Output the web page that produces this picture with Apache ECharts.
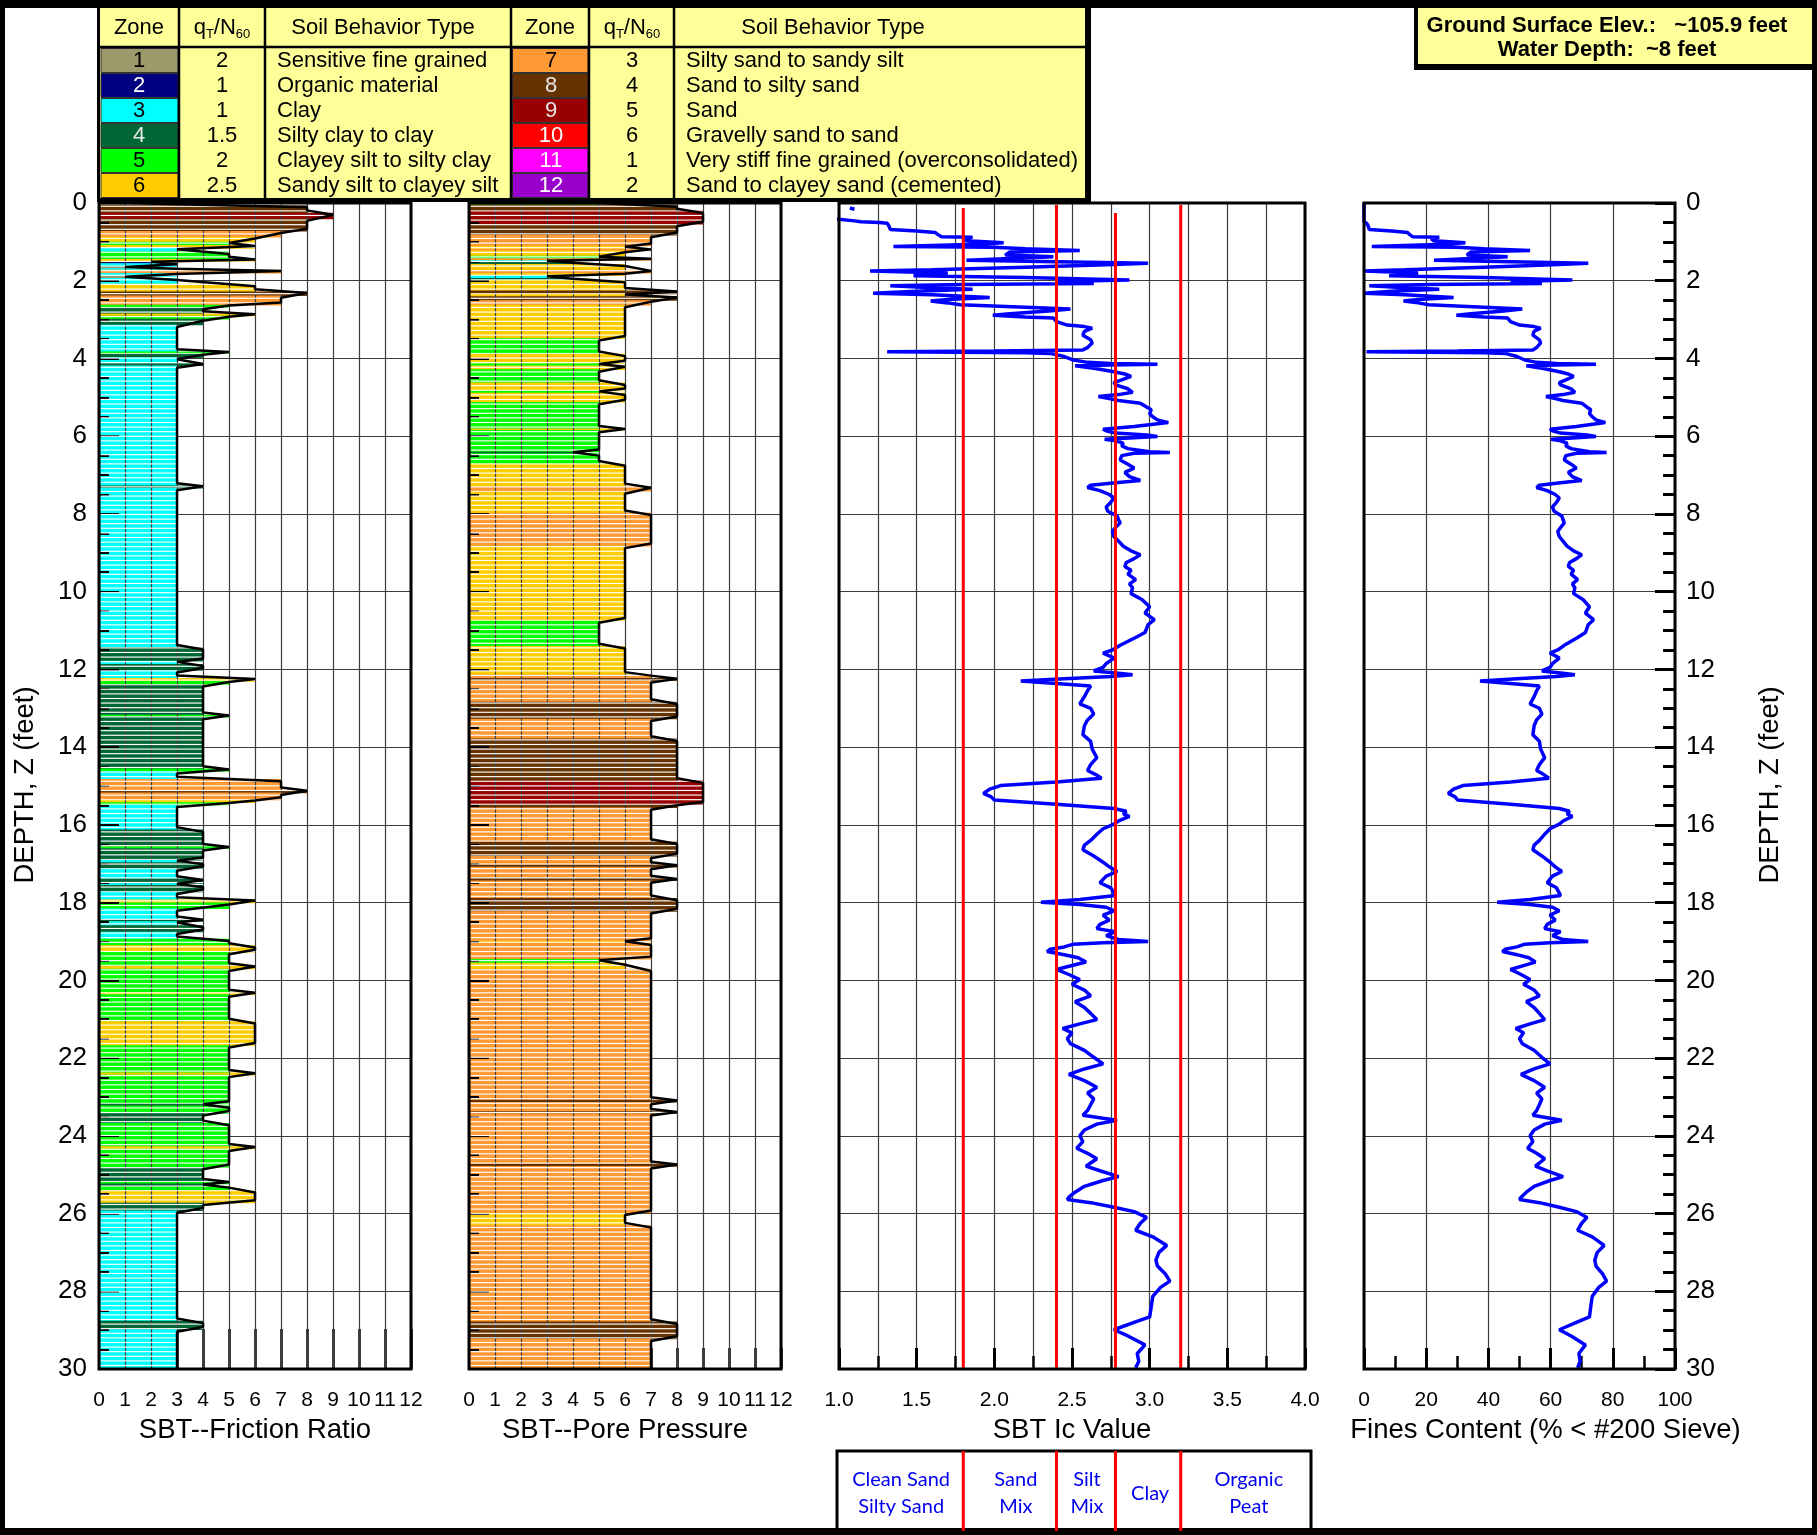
<!DOCTYPE html>
<html><head><meta charset="utf-8">
<script src="https://cdn.jsdelivr.net/npm/echarts@6/dist/echarts.min.js"></script>
<style>html,body{margin:0;padding:0;background:#fff}#c{width:1817px;height:1535px}</style>
</head><body><div id="c"></div>
<script>
// ---------------- DATA ----------------
const zoneColors = ['#9c9a6a','#000080','#00ffff','#006633','#00ff00','#ffcc00','#ff9933','#663300','#990000','#ff0000','#ff00ff','#9900cc'];
const zoneTextColors = ['#000','#fff','#000','#e6e6e6','#000','#000','#000','#e6e6e6','#e6e6e6','#fff','#fff','#fff'];
const zoneQN = ['2','1','1','1.5','2','2.5','3','4','5','6','1','2'];
const zoneNames = ['Sensitive fine grained','Organic material','Clay','Silty clay to clay','Clayey silt to silty clay','Sandy silt to clayey silt',
  'Silty sand to sandy silt','Sand to silty sand','Sand','Gravelly sand to sand','Very stiff fine grained (overconsolidated)','Sand to clayey sand (cemented)'];

const depthMax = 30;
// SBT zone from friction ratio: layer top depth (ft) and zone
const frTop = [0.00,0.05,0.25,0.40,0.72,0.87,1.00,1.08,1.16,1.25,
  1.44,1.49,1.55,1.63,1.68,1.72,1.80,1.88,1.93,2.08,
  2.28,2.38,2.62,2.68,2.84,2.90,2.98,3.13,3.82,3.87,
  3.97,4.12,4.18,7.27,7.33,11.43,11.78,11.86,12.02,12.22,
  12.30,12.38,13.17,13.22,14.55,14.62,14.82,15.10,15.17,15.35,
  15.42,15.48,16.12,16.55,16.60,16.90,16.96,17.12,17.38,17.50,
  17.55,17.72,17.92,18.00,18.15,18.42,18.48,18.58,18.75,18.93,
  19.10,19.27,19.62,19.70,20.30,20.36,21.05,21.67,22.37,22.43,
  23.17,23.22,23.42,23.67,24.27,24.33,24.80,25.17,25.23,25.30,
  25.40,25.72,25.92,28.76,28.98];
const frZone = [1,8,9,8,7,6,5,6,3,5, 6,2,3,1,3,7,3,1,3,6, 8,7,5,4,6,5,4,3,5,4,
  3,4,3,4,3,4,3,4,3,6, 5,4,5,4,5,3,7,8,7,6, 5,3,4,5,4,3,4,3,4,3,
  4,3,6,5,3,4,3,4,3,5, 6,5,6,5,6,5,6,5,6,5, 4,5,4,5,6,5,4,5,4,5, 6,4,3,4,3];
// SBT zone from pore pressure
const ppTop = [0.00,0.04,0.20,0.54,0.82,1.10,1.18,1.22,1.36,1.42,
  1.47,1.52,1.57,1.72,1.80,1.86,1.93,1.98,2.25,2.33,
  2.40,2.50,2.62,3.48,3.88,4.12,4.18,4.28,4.62,4.83,
  4.88,5.12,5.80,5.84,6.40,6.44,6.70,7.28,7.42,7.97,
  8.82,10.74,11.40,12.13,12.22,12.28,12.83,13.27,13.78,14.86,
  15.47,15.55,16.43,16.80,17.02,17.08,17.37,17.43,17.88,18.22,
  18.98,19.03,19.45,19.55,19.70,23.07,23.13,23.37,23.42,24.72,
  24.78,25.98,26.30,28.78,29.22];
const ppZone = [5,8,9,8,7,6,7,6,5,7, 3,4,6,7,6,3,4,6,8,6, 8,7,6,5,6,5,6,5,6,5,
  6,5,6,5,4,5,6,7,6,7, 6,5,6,7,8,7,8,7,8,9, 8,7,8,7,8,7,8,7,8,7,
  6,7,5,6,7,8,7,8,7,8, 7,6,7,8,7];

// Ic and fines content profiles
const depth = [0.00,0.10,0.13,0.16,0.19,0.30,0.42,0.46,0.48,0.50,
  0.52,0.58,0.68,0.72,0.76,0.82,0.87,0.88,0.92,0.97,
  1.02,1.06,1.12,1.14,1.18,1.22,1.26,1.34,1.38,1.43,
  1.47,1.53,1.55,1.59,1.65,1.72,1.75,1.80,1.87,1.92,
  1.98,2.02,2.07,2.10,2.13,2.18,2.22,2.27,2.32,2.36,
  2.43,2.48,2.52,2.57,2.62,2.68,2.73,2.78,2.85,2.89,
  2.93,2.96,3.05,3.14,3.18,3.22,3.30,3.40,3.44,3.52,
  3.60,3.65,3.72,3.78,3.81,3.83,3.85,3.87,3.95,4.04,
  4.10,4.13,4.15,4.17,4.19,4.26,4.34,4.40,4.46,4.55,
  4.62,4.68,4.78,4.87,4.93,4.98,5.03,5.08,5.15,5.25,
  5.32,5.42,5.50,5.58,5.65,5.70,5.75,5.82,5.86,5.92,
  5.97,6.01,6.04,6.08,6.12,6.18,6.25,6.32,6.40,6.42,
  6.44,6.50,6.61,6.72,6.82,6.93,7.04,7.14,7.20,7.26,
  7.32,7.40,7.50,7.59,7.70,7.82,7.93,8.05,8.15,8.23,
  8.35,8.45,8.58,8.70,8.83,8.95,9.05,9.15,9.25,9.35,
  9.45,9.55,9.69,9.80,9.90,10.05,10.20,10.39,10.55,10.72,
  10.85,11.05,11.20,11.38,11.50,11.58,11.65,11.71,11.85,11.95,
  12.04,12.10,12.14,12.18,12.24,12.30,12.36,12.43,12.55,12.70,
  12.89,13.00,13.15,13.30,13.45,13.68,13.85,14.05,14.27,14.45,
  14.60,14.70,14.80,14.90,14.99,15.08,15.19,15.28,15.36,15.47,
  15.58,15.65,15.72,15.78,15.90,15.98,16.10,16.24,16.40,16.52,
  16.64,16.80,16.96,17.08,17.20,17.32,17.49,17.62,17.82,17.92,
  17.99,18.05,18.12,18.21,18.32,18.45,18.56,18.67,18.75,18.85,
  18.95,19.00,19.03,19.07,19.14,19.20,19.26,19.34,19.42,19.53,
  19.62,19.72,19.85,19.98,20.10,20.25,20.40,20.55,20.70,20.85,
  21.01,21.12,21.24,21.35,21.50,21.63,21.80,21.98,22.15,22.28,
  22.42,22.58,22.75,22.90,23.05,23.20,23.35,23.47,23.55,23.60,
  23.70,23.85,24.00,24.15,24.32,24.45,24.59,24.70,24.78,24.90,
  25.05,25.15,25.30,25.45,25.58,25.64,25.72,25.84,25.95,26.10,
  26.25,26.43,26.60,26.82,27.00,27.20,27.35,27.55,27.74,27.90,
  28.13,28.40,28.66,28.80,28.99,29.15,29.38,29.60,29.80,29.97];
const ic = [0.80,null,1.07,1.10,null,0.85,1.00,1.10,1.14,1.26,
  1.31,1.32,1.33,1.50,1.62,1.64,1.66,1.86,1.80,1.82,
  2.06,1.90,1.35,2.00,2.20,2.55,2.10,2.07,2.38,2.10,
  1.82,2.70,2.99,2.72,2.20,1.60,1.20,1.70,1.48,2.20,
  2.87,2.40,2.64,1.80,1.33,1.60,1.86,1.50,1.22,1.60,
  1.97,1.70,1.59,1.70,1.78,2.20,2.49,2.35,2.10,1.99,
  2.20,2.38,2.40,2.47,2.58,2.63,2.58,2.57,2.56,2.62,
  2.63,2.64,2.60,2.57,2.00,1.31,2.20,2.36,2.45,2.51,
  2.60,2.75,3.05,2.75,2.52,2.65,2.77,2.84,2.88,2.82,
  2.77,2.78,2.86,2.89,2.80,2.67,2.74,2.80,2.94,2.98,
  3.01,3.00,3.02,3.05,3.12,3.13,2.90,2.70,2.72,2.78,
  2.98,3.05,2.90,2.71,2.78,2.83,2.82,2.86,3.00,3.13,
  2.90,2.82,2.81,2.86,2.90,2.84,2.87,2.94,2.78,2.62,
  2.60,2.68,2.74,2.77,2.75,2.72,2.73,2.79,2.80,2.81,
  2.78,2.76,2.77,2.80,2.83,2.88,2.94,2.90,2.85,2.84,
  2.88,2.86,2.91,2.87,2.89,2.88,2.95,3.00,2.97,3.03,
  2.99,2.97,2.90,2.81,2.76,2.70,2.74,2.77,2.72,2.70,
  2.64,2.80,2.89,2.75,2.45,2.17,2.40,2.62,2.60,2.58,
  2.55,2.62,2.64,2.60,2.58,2.57,2.62,2.63,2.66,2.62,
  2.60,2.65,2.69,2.40,2.04,1.97,1.93,1.98,2.00,2.40,
  2.77,2.85,2.83,2.87,2.80,2.77,2.70,2.66,2.62,2.58,
  2.57,2.64,2.70,2.74,2.79,2.72,2.68,2.75,2.78,2.55,
  2.30,2.55,2.72,2.77,2.70,2.74,2.68,2.66,2.78,2.72,
  2.80,2.99,2.70,2.51,2.45,2.36,2.34,2.45,2.54,2.59,
  2.50,2.40,2.48,2.55,2.50,2.58,2.62,2.52,2.58,2.62,
  2.66,2.55,2.44,2.50,2.47,2.49,2.58,2.64,2.70,2.58,
  2.48,2.58,2.66,2.60,2.64,2.62,2.60,2.57,2.70,2.79,
  2.66,2.58,2.55,2.57,2.53,2.60,2.66,2.62,2.59,2.68,
  2.80,2.70,2.58,2.52,2.48,2.47,2.62,2.77,2.90,2.98,
  2.94,2.91,3.02,3.11,3.06,3.04,3.05,3.10,3.13,3.07,
  3.02,3.01,3.00,2.90,2.77,2.86,2.97,2.92,2.93,2.91];
const fc = [0,0,0,0,0,0,0,0,0,0,
  0.8,1.3,1.7,8.9,14.0,14.8,15.7,24.2,21.6,22.5,
  32.6,25.9,2.5,30.1,38.6,53.4,34.3,33.1,46.2,34.3,
  22.5,59.8,72.1,60.6,38.6,13.1,0,17.4,8.1,38.6,
  67.0,47.1,57.2,21.6,1.7,13.1,24.2,8.9,0,13.1,
  28.8,17.4,12.7,17.4,20.8,38.6,50.9,44.9,34.3,29.7,
  38.6,46.2,47.1,50.0,54.7,56.8,54.7,54.3,53.8,56.4,
  56.8,57.2,55.5,54.3,30.1,0.8,38.6,45.4,49.2,51.7,
  55.5,61.9,74.6,61.9,52.2,57.7,62.8,65.7,67.4,64.9,
  62.8,63.2,66.6,67.8,64.0,58.5,61.5,64.0,70.0,71.7,
  72.9,72.5,73.4,74.6,77.6,78.0,68.3,59.8,60.6,63.2,
  71.7,74.6,68.3,60.2,63.2,65.3,64.9,66.6,72.5,78.0,
  68.3,64.9,64.4,66.6,68.3,65.7,67.0,70.0,63.2,56.4,
  55.5,58.9,61.5,62.8,61.9,60.6,61.1,63.6,64.0,64.4,
  63.2,62.3,62.8,64.0,65.3,67.4,70.0,68.3,66.1,65.7,
  67.4,66.6,68.7,67.0,67.8,67.4,70.4,72.5,71.2,73.8,
  72.1,71.2,68.3,64.4,62.3,59.8,61.5,62.8,60.6,59.8,
  57.2,64.0,67.8,61.9,49.2,37.3,47.1,56.4,55.5,54.7,
  53.4,56.4,57.2,55.5,54.7,54.3,56.4,56.8,58.1,56.4,
  55.5,57.7,59.4,47.1,31.8,28.8,27.1,29.3,30.1,47.1,
  62.8,66.1,65.3,67.0,64.0,62.8,59.8,58.1,56.4,54.7,
  54.3,57.2,59.8,61.5,63.6,60.6,58.9,61.9,63.2,53.4,
  42.8,53.4,60.6,62.8,59.8,61.5,58.9,58.1,63.2,60.6,
  64.0,72.1,59.8,51.7,49.2,45.4,44.5,49.2,53.0,55.1,
  51.3,47.1,50.5,53.4,51.3,54.7,56.4,52.2,54.7,56.4,
  58.1,53.4,48.8,51.3,50.0,50.9,54.7,57.2,59.8,54.7,
  50.5,54.7,58.1,55.5,57.2,56.4,55.5,54.3,59.8,63.6,
  58.1,54.7,53.4,54.3,52.6,55.5,58.1,56.4,55.1,58.9,
  64.0,59.8,54.7,52.2,50.5,50.0,56.4,62.8,68.3,71.7,
  70.0,68.7,73.4,77.2,75.0,74.2,74.6,76.7,78.0,75.5,
  73.4,72.9,72.5,68.3,62.8,66.6,71.2,69.1,69.5,68.7];

const icBounds = [1.8, 2.4, 2.78, 3.2];
const icBoundTop = [0.13, 0.05, 0.26, 0.05];
const icClasses = [['Clean Sand','Silty Sand'],['Sand','Mix'],['Silt','Mix'],['Clay'],['Organic','Peat']];

const xTitles = ['SBT--Friction Ratio','SBT--Pore Pressure','SBT Ic Value','Fines Content (% < #200 Sieve)'];
const depthTitle = 'DEPTH, Z (feet)';
const infoLines = ['Ground Surface Elev.:   ~105.9 feet','Water Depth:  ~8 feet'];

// ---------------- CHART ----------------
const F = "'Liberation Sans', Arial, sans-serif";
const chart = echarts.init(document.getElementById('c'), null, {renderer:'canvas', width:1817, height:1535});

const GR = [
  {left:99, top:203, width:312, height:1166},
  {left:469, top:203, width:312, height:1166},
  {left:839, top:203, width:466, height:1166},
  {left:1364, top:203, width:311, height:1166}
];

// white stripe pattern
const pc = document.createElement('canvas'); pc.width = 8; pc.height = 23;
(function(){ const g = pc.getContext('2d'); g.fillStyle = '#ffffff'; for (let k = 0; k < 5; k++) g.fillRect(0, k*4.6 + 3.3, 8, 1.15); })();

function layers(tops, zones){ return tops.map((t,i) => [zones[i], t, i < tops.length-1 ? tops[i+1] : depthMax]); }
function outline(L){
  const pts = [];
  L.forEach(([z,t,b], i) => {
    const e = Math.min(0.06, (b-t)/3);
    pts.push([z, i === 0 ? t : t+e]);
    pts.push([z, i === L.length-1 ? b : b-e]);
  });
  return pts;
}
function fillS(L, xi, yi, stripes){
  return {type:'custom', xAxisIndex:xi, yAxisIndex:yi, z: stripes ? 6 : 2, silent:true,
    dimensions:['z','t','b'], encode:{x:'z', y:['t','b']}, data:L,
    renderItem:(p, api) => {
      const z = api.value(0), t = api.value(1), b = api.value(2);
      const a = api.coord([0, t]), c = api.coord([z, b]);
      const off = stripes ? 1.5 : 0;
      return {type:'rect', shape:{x:a[0]+off, y:a[1], width:c[0]-a[0]-off, height:c[1]-a[1] + (stripes?0:0.6)},
        style:{fill: stripes ? {image:pc, repeat:'repeat'} : zoneColors[z-1]}};
    }};
}
function outlineS(L, xi, yi){
  return {type:'line', xAxisIndex:xi, yAxisIndex:yi, data:outline(L), showSymbol:false, symbol:'none',
    lineStyle:{color:'#000', width:2.5}, z:7, silent:true, animation:false};
}

const GL = {show:true, lineStyle:{color:'#3c3c3c', width:1.2}};
const NO = {axisLine:{show:false, onZero:false}, axisTick:{show:false}, axisLabel:{show:false}, splitLine:{show:false}};
function yAx(gi, pos, extra){ return Object.assign({gridIndex:gi, type:'value', position:pos, inverse:true, min:0, max:depthMax, interval:2}, NO, extra||{}); }
function xAx(gi, pos, min, max, interval, extra){ return Object.assign({gridIndex:gi, type:'value', position:pos, min, max, interval}, NO, extra||{}); }
const lab = {show:true, fontSize:21, fontFamily:F, color:'#000', margin:21};
const nm = (s, shift) => ({name:s, nameLocation:'middle', nameGap:47, nameMoveOverlap:false,
  nameTextStyle:{fontSize:27.5, fontFamily:F, color:'#000', padding:[0,0,0,shift||0]}});
const tk = (len, w) => ({show:true, inside:true, length:len, lineStyle:{color:'#000', width:w}});
const mtk = (n, len, w) => ({show:true, splitNumber:n, length:len, lineStyle:{color:'#000', width:w}});

const frL = layers(frTop, frZone), ppL = layers(ppTop, ppZone);

const option = {
  animation:false,
  backgroundColor:'#ffffff',
  grid: GR.map(g => Object.assign({containLabel:false, outerBoundsMode:'none', show:false}, g)),
  xAxis: [
    xAx(0,'bottom',0,12,1, Object.assign({axisTick:tk(40,2.5), axisLabel:lab}, nm(xTitles[0]))),
    xAx(0,'top',0,12,1, {z:5, splitLine:GL}),
    xAx(1,'bottom',0,12,1, Object.assign({axisTick:tk(21,2.5), axisLabel:lab}, nm(xTitles[1]))),
    xAx(1,'top',0,12,1, {z:5, splitLine:GL}),
    xAx(2,'bottom',1,4,0.5, Object.assign({axisTick:tk(21,3), minorTick:mtk(2,13,2.5), splitLine:GL, minorSplitLine:GL,
      axisLabel:Object.assign({}, lab, {formatter:v => v.toFixed(1)})}, nm(xTitles[2]))),
    xAx(3,'bottom',0,100,20, Object.assign({axisTick:tk(21,3), minorTick:mtk(2,13,2.5), splitLine:GL, axisLabel:lab}, nm(xTitles[3], 52)))
  ],
  yAxis: [
    yAx(0,'left',{z:5, axisTick:tk(20,2), minorTick:mtk(4,10,2), axisLabel:{show:true, fontSize:26, fontFamily:F, color:'#000', margin:12}}),
    yAx(0,'right',{splitLine:GL}),
    yAx(1,'left',{z:5, axisTick:tk(20,2), minorTick:mtk(4,10,2)}),
    yAx(1,'right',{splitLine:GL}),
    yAx(2,'left'),
    yAx(2,'right',{splitLine:GL}),
    yAx(3,'left',{splitLine:GL}),
    yAx(3,'right',{axisTick:tk(20,3), minorTick:mtk(4,12,3), axisLabel:{show:true, fontSize:26, fontFamily:F, color:'#000', margin:11}})
  ],
  series: [
    fillS(frL,0,0,false), fillS(frL,0,0,true), outlineS(frL,0,0),
    fillS(ppL,2,2,false), fillS(ppL,2,2,true), outlineS(ppL,2,2),
    {type:'line', xAxisIndex:4, yAxisIndex:4, data:depth.map((d,i) => [ic[i], d]), showSymbol:false, symbol:'none',
      connectNulls:false, clip:true, lineStyle:{color:'#0000ff', width:3.5}, z:4, silent:true},
    {type:'custom', xAxisIndex:4, yAxisIndex:4, silent:true, z:5, clip:true,
      data:icBounds.map((b,i) => [b, icBoundTop[i], depthMax]),
      renderItem:(p, api) => {
        const a = api.coord([api.value(0), api.value(1)]), c = api.coord([api.value(0), api.value(2)]);
        return {type:'line', shape:{x1:a[0], y1:a[1], x2:c[0], y2:c[1]}, style:{stroke:'#ff0000', lineWidth:3}};
      }},
    {type:'line', xAxisIndex:5, yAxisIndex:6, data:depth.map((d,i) => [fc[i], d]), showSymbol:false, symbol:'none',
      clip:false, lineStyle:{color:'#0000ff', width:3.5}, z:4, silent:true}
  ]
};
chart.setOption(option);

// ---------------- DECORATION ----------------
const els = [];
function R(x,y,w,h,fill,stroke,lw){ return {type:'rect', shape:{x,y,width:w,height:h}, style:{fill:fill||'none', stroke:stroke||'none', lineWidth:lw||0}, z:100, silent:true}; }
function T(x,y,text,font,fill,align){ const a = align||'center'; return {type:'text', x, y, z:101, silent:true,
  style:{text, font, fill:fill||'#000', align:a, textAlign:a, verticalAlign:'middle', textVerticalAlign:'middle'}}; }
function Ln(x1,y1,x2,y2,stroke,lw){ return {type:'line', shape:{x1,y1,x2,y2}, style:{stroke, lineWidth:lw}, z:101, silent:true}; }

// legend table
const TF = `22px ${F}`;
els.push(R(97,4,994,198,'#000'));
els.push(R(100,8,985,190,'#ffff99'));
[179,265,511,589,674].forEach(x => els.push(Ln(x,8,x,198,'#000',2.5)));
els.push(Ln(100,47,1085,47,'#000',2.5));
const qText = (x) => ({type:'text', x, y:28, z:101, silent:true, style:{text:'{a|q}{b|T}{a|/N}{b|60}', align:'center', textAlign:'center', verticalAlign:'middle', textVerticalAlign:'middle',
  rich:{a:{fontSize:22, fontFamily:F, fill:'#000', lineHeight:26, verticalAlign:'middle'}, b:{fontSize:13, fontFamily:F, fill:'#000', lineHeight:13, verticalAlign:'bottom'}}}});
els.push(T(139,28,'Zone',TF), qText(222), T(383,28,'Soil Behavior Type',TF));
els.push(T(550,28,'Zone',TF), qText(632), T(833,28,'Soil Behavior Type',TF));
for (let i = 0; i < 6; i++) {
  const top = 48 + 25*i, cy = top + 13;
  els.push(R(101, top+0.5, 77, 24, zoneColors[i], '#333', 1));
  els.push(T(139, cy, String(i+1), TF, zoneTextColors[i]));
  els.push(T(222, cy, zoneQN[i], TF));
  els.push(T(277, cy, zoneNames[i], TF, '#000', 'left'));
  els.push(R(512.5, top+0.5, 75.5, 24, zoneColors[i+6], '#333', 1));
  els.push(T(551, cy, String(i+7), TF, zoneTextColors[i+6]));
  els.push(T(632, cy, zoneQN[i+6], TF));
  els.push(T(686, cy, zoneNames[i+6], TF, '#000', 'left'));
}
// info box
els.push(R(1414,4,400,66,'#000'));
els.push(R(1418,8,394,56,'#ffff99'));
els.push(T(1607,26,infoLines[0],`bold 22px ${F}`));
els.push(T(1607,50,infoLines[1],`bold 22px ${F}`));
// depth titles
[25, 1770].forEach(x => els.push({type:'text', x, y:785, rotation:Math.PI/2, z:101, silent:true,
  style:{text:depthTitle, font:`27.5px ${F}`, fill:'#000', align:'center', textAlign:'center', verticalAlign:'middle', textVerticalAlign:'middle'}}));
// panel frames
GR.forEach(g => els.push(R(g.left, g.top, g.width, g.height, 'none', '#000', 3)));
// Ic classification box
const bx = icBounds.map(b => chart.convertToPixel({xAxisIndex:4}, b));
els.push(R(837,1451,474,90,'#fff','#000',3));
const edges = [837].concat(bx, [1311]);
const shift = [1, 6, 1, 2, 3];
const LF = `20px Lato, ${F}`;
icClasses.forEach((lines, k) => {
  const cx = (edges[k] + edges[k+1]) / 2 + shift[k];
  if (lines.length === 1) els.push(T(cx, 1494, lines[0], LF, '#0000ee'));
  else { els.push(T(cx, 1480, lines[0], LF, '#0000ee')); els.push(T(cx, 1507, lines[1], LF, '#0000ee')); }
});
bx.forEach(x => els.push(Ln(x,1451,x,1531,'#ff0000',3)));
// outer frame
els.push(R(0,0,1817,8,'#000'), R(0,0,5,1535,'#000'), R(1812,0,5,1535,'#000'), R(0,1528,1817,7,'#000'));

chart.setOption({graphic:{elements:els}});
</script>
</body></html>
